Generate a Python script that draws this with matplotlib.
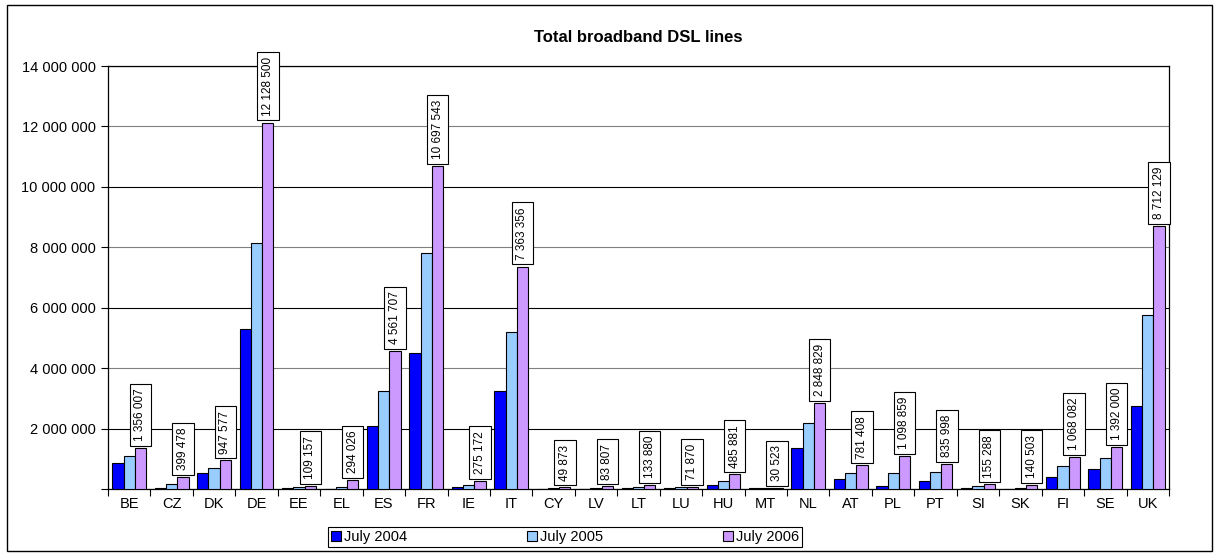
import numpy as np
import matplotlib
matplotlib.use('Agg')
import matplotlib.pyplot as plt
from matplotlib.patches import Rectangle, Patch
from matplotlib.ticker import FuncFormatter

# Data (2004 and 2005, 2006 from the labels)
countries = ['BE', 'CZ', 'DK', 'DE', 'EE', 'EL', 'ES', 'FR', 'IE', 'IT', 'CY', 'LV', 'LT',
             'LU', 'HU', 'MT', 'NL', 'AT', 'PL', 'PT', 'SI', 'SK', 'FI', 'SE', 'UK']
july_2004 = [870000, 30000, 540000, 5280000, 30000, 10000, 2070000, 4510000, 50000,
             3230000, 10000, 10000, 30000, 30000, 140000, 20000, 1350000, 340000,
             100000, 280000, 40000, 10000, 400000, 670000, 2750000]
july_2005 = [1080000, 150000, 700000, 8150000, 60000, 80000, 3260000, 7820000, 140000,
             5190000, 30000, 30000, 70000, 50000, 280000, 30000, 2200000, 520000,
             520000, 560000, 90000, 40000, 760000, 1030000, 5770000]
july_2006 = [1356007, 399478, 947577, 12128500, 109157, 294026, 4561707, 10697543, 275172,
             7363356, 49873, 83807, 133880, 71870, 485881, 30523, 2848829, 781408,
             1098859, 835998, 155288, 140503, 1068082, 1392000, 8712129]
series_names = ['July 2004', 'July 2005', 'July 2006']
colors = ['#0000FF', '#99CCFF', '#CC99FF']

plt.rcParams['font.family'] = ['Liberation Sans', 'DejaVu Sans']


def spaced(v):
    return f"{v:,.0f}".replace(',', ' ')


fig = plt.figure(figsize=(12.15, 5.56), dpi=100)
ax = fig.add_axes([108 / 1215, 1 - 489 / 556, (1169 - 108) / 1215, (489 - 66) / 556])

x = np.arange(len(countries))
w = 0.265
all_series = [july_2004, july_2005, july_2006]
for i, vals in enumerate(all_series):
    ax.bar(x + (i - 1) * w, vals, width=w, color=colors[i], edgecolor='black',
           linewidth=0.8, zorder=3)

# value labels above the 2006 bars
lab_fs = 8.5
lab_pad = 0.4
for xi, v in zip(x, july_2006):
    ax.annotate(spaced(v), (xi + w, v), xytext=(0, 1.5 + lab_pad * lab_fs),
                textcoords='offset points', rotation=90, ha='center', va='bottom',
                fontsize=lab_fs, zorder=5,
                bbox=dict(boxstyle=f'square,pad={lab_pad}', fc='white', ec='black', lw=0.8))

ax.set_ylim(0, 14000000)
ax.set_xlim(-0.5, len(countries) - 0.5)
ax.set_yticks(np.arange(0, 14000001, 2000000))
ax.yaxis.set_major_formatter(FuncFormatter(lambda v, p: '' if v == 0 else spaced(v)))
ax.set_xticks(np.arange(-0.5, len(countries), 1.0))
ax.set_xticklabels([])
ax.set_xticks(x, minor=True)
ax.set_xticklabels(countries, minor=True)
ax.tick_params(axis='x', which='minor', length=0, pad=6, labelsize=10.5)
ax.tick_params(axis='x', which='major', length=5, direction='out', width=0.8)
ax.tick_params(axis='y', length=5, direction='out', width=0.8, labelsize=10.5, pad=4)

ax.yaxis.grid(True, linewidth=0.8, zorder=0)
for i, gl in enumerate(ax.get_ygridlines()):
    gl.set_color('black' if i % 2 else '#808080')
for s in ax.spines.values():
    s.set_linewidth(0.9)

fig.text(638 / 1215, 1 - 38 / 556, 'Total broadband DSL lines', ha='center', va='center',
         fontsize=12, fontweight='bold')

handles = [Patch(facecolor=c, edgecolor='black', linewidth=0.8) for c in colors]
leg = fig.legend(handles, series_names, loc='center', ncol=3,
                 bbox_to_anchor=(565 / 1215, 1 - 537 / 556), fontsize=10.5,
                 frameon=True, fancybox=False, edgecolor='black', framealpha=1,
                 handlelength=0.7, handleheight=0.7, handletextpad=0.2,
                 columnspacing=8.2, borderpad=0.2, borderaxespad=0)
leg.get_frame().set_linewidth(0.8)

fig.patches.append(Rectangle((7 / 1215, 5 / 556), (1212 - 7) / 1215, (551 - 5) / 556,
                             transform=fig.transFigure, fill=False, edgecolor='black',
                             linewidth=1.0))

fig.savefig('out.png', dpi=100)
